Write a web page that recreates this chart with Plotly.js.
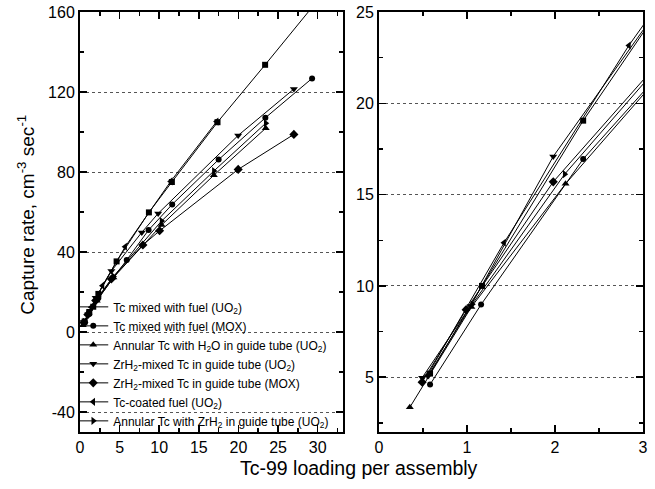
<!DOCTYPE html>
<html>
<head>
<meta charset="utf-8">
<script src="https://cdn.plot.ly/plotly-3.0.1.min.js"></script>
<style>html,body{margin:0;padding:0;background:#fff;}#chart{width:655px;height:489px;}</style>
</head>
<body>
<div id="chart"></div>
<script>
// Series names (legend labels)
const seriesNames = [
  "Tc mixed with fuel (UO<sub>2</sub>)",
  "Tc mixed with fuel (MOX)",
  "Annular Tc with H<sub>2</sub>O in guide tube (UO<sub>2</sub>)",
  "ZrH<sub>2</sub>-mixed Tc in guide tube (UO<sub>2</sub>)",
  "ZrH<sub>2</sub>-mixed Tc in guide tube (MOX)",
  "Tc-coated fuel (UO<sub>2</sub>)",
  "Annular Tc with ZrH<sub>2</sub> in guide tube (UO<sub>2</sub>)"
];
const seriesSymbols = ["square", "circle", "triangle-up", "triangle-down", "diamond", "triangle-left", "triangle-right"];

// Tc-99 loading per assembly (x) and capture rate (y) for each series
const fuelUO2X = [0.58, 1.17, 2.32, 4.62, 8.7, 11.6, 17.36, 23.37, 35.0];
const fuelUO2Y = [5.2, 10.0, 19.05, 35.3, 59.8, 75.0, 104.9, 133.6, 190.0];

const fuelMOXX = [0.58, 1.16, 2.32, 5.9, 8.66, 11.64, 17.5, 23.4, 29.3];
const fuelMOXY = [4.6, 8.98, 16.95, 36.0, 51.0, 63.8, 86.2, 107.1, 126.8];

const annH2OX = [0.35, 1.05, 2.12, 4.22, 10.3, 16.9, 23.45];
const annH2OY = [3.35, 8.85, 15.59, 27.2, 53.5, 78.4, 101.9];

const zrUO2X = [0.49, 1.04, 1.98, 3.96, 7.8, 9.87, 19.97, 27.0];
const zrUO2Y = [4.97, 8.9, 17.09, 30.5, 49.8, 59.3, 98.3, 121.5];

const zrMOXX = [0.49, 0.99, 1.98, 3.96, 7.94, 10.05, 19.97, 27.0];
const zrMOXY = [4.73, 8.7, 15.7, 26.5, 43.5, 50.6, 81.3, 98.8];

const coatedX = [0.55, 1.42, 2.84, 5.7, 11.45, 17.25];
const coatedY = [5.1, 12.36, 23.17, 42.6, 75.3, 105.2];

const annZrX = [0.56, 1.06, 2.11, 4.22, 10.3, 16.9, 23.45];
const annZrY = [5.1, 9.0, 16.12, 27.8, 55.5, 80.5, 104.4];

const seriesX = [fuelUO2X, fuelMOXX, annH2OX, zrUO2X, zrMOXX, coatedX, annZrX];
const seriesY = [fuelUO2Y, fuelMOXY, annH2OY, zrUO2Y, zrMOXY, coatedY, annZrY];

// Axis tick settings
const leftXTicks = [0, 5, 10, 15, 20, 25, 30];
const leftYTicks = [-40, 0, 40, 80, 120, 160];
const rightXTicks = [0, 1, 2, 3];
const rightYTicks = [5, 10, 15, 20, 25];

const FONT = "Liberation Sans, Arial, Helvetica, sans-serif";
const markerSizes = {"square": 6, "circle": 6, "triangle-up": 7, "triangle-down": 7, "diamond": 7, "triangle-left": 7, "triangle-right": 7};

const traces = [];
for (let i = 0; i < seriesNames.length; i++) {
  traces.push({
    type: "scatter",
    mode: "lines+markers",
    line: {color: "#000", width: 1},
    marker: {symbol: seriesSymbols[i], size: markerSizes[seriesSymbols[i]], color: "#000"},
    legendgroup: "g" + i,
    x: seriesX[i], y: seriesY[i], name: seriesNames[i], xaxis: "x", yaxis: "y", showlegend: true
  });
}
for (let i = 0; i < seriesNames.length; i++) {
  traces.push({
    type: "scatter",
    mode: "lines+markers",
    line: {color: "#000", width: 1},
    marker: {symbol: seriesSymbols[i], size: markerSizes[seriesSymbols[i]], color: "#000"},
    legendgroup: "g" + i,
    x: seriesX[i], y: seriesY[i], name: seriesNames[i], xaxis: "x2", yaxis: "y2", showlegend: false
  });
}

function axisBase() {
  return {
    showline: true, linecolor: "#000", linewidth: 2, mirror: "allticks",
    ticks: "inside", ticklen: 7, tickwidth: 1.5, tickcolor: "#000",
    zeroline: false, showgrid: false,
    tickfont: {family: FONT, size: 16, color: "#000"},
    tickmode: "array"
  };
}

const xaxis = Object.assign(axisBase(), {
  domain: [0, 0.4671], range: [0, 33.2], anchor: "y",
  tickvals: leftXTicks, ticktext: leftXTicks.map(String),
  minor: {dtick: 2.5, tick0: 0, ticks: "inside", ticklen: 4, tickwidth: 1.5, tickcolor: "#000", showgrid: false}
});
const yaxis = Object.assign(axisBase(), {
  domain: [0, 1], range: [-50, 160], anchor: "x",
  tickvals: leftYTicks, ticktext: leftYTicks.map(String),
  showgrid: true, gridcolor: "#555", gridwidth: 1, griddash: "dot",
  minor: {dtick: 20, tick0: 0, ticks: "inside", ticklen: 4, tickwidth: 1.5, tickcolor: "#000", showgrid: false}
});
const xaxis2 = Object.assign(axisBase(), {
  domain: [0.5311, 1], range: [0, 3], anchor: "y2",
  tickvals: rightXTicks, ticktext: rightXTicks.map(String),
  minor: {dtick: 0.5, tick0: 0, ticks: "inside", ticklen: 4, tickwidth: 1.5, tickcolor: "#000", showgrid: false}
});
const yaxis2 = Object.assign(axisBase(), {
  domain: [0, 1], range: [2, 25], anchor: "x2",
  tickvals: rightYTicks, ticktext: rightYTicks.map(String),
  showgrid: true, gridcolor: "#555", gridwidth: 1, griddash: "dot",
  minor: {dtick: 2.5, tick0: 0, ticks: "inside", ticklen: 4, tickwidth: 1.5, tickcolor: "#000", showgrid: false}
});

const layout = {
  width: 655, height: 489,
  margin: {l: 80, r: 12, t: 12, b: 57, pad: 0},
  paper_bgcolor: "#fff", plot_bgcolor: "rgba(0,0,0,0)",
  font: {family: FONT, color: "#000"},
  showlegend: true,
  legend: {
    x: -0.012, xanchor: "left", y: -0.008, yanchor: "bottom",
    bgcolor: "rgba(0,0,0,0)", borderwidth: 0,
    font: {family: FONT, size: 12, color: "#000"},
    traceorder: "normal", tracegroupgap: 0
  },
  xaxis: xaxis, yaxis: yaxis, xaxis2: xaxis2, yaxis2: yaxis2,
  annotations: [
    {text: "Tc-99 loading per assembly", xref: "paper", yref: "paper",
     x: 0.4956, y: -0.086, xanchor: "center", yanchor: "middle", showarrow: false,
     font: {family: FONT, size: 19.5, color: "#000"}},
    {text: "Capture rate, cm<sup>-3</sup> sec<sup>-1</sup>", xref: "paper", yref: "paper",
     x: -0.096, y: 0.517, xanchor: "center", yanchor: "middle", textangle: -90, showarrow: false,
     font: {family: FONT, size: 19, color: "#000"}}
  ]
};

Plotly.newPlot("chart", traces, layout, {displayModeBar: false, staticPlot: true});
</script>
</body>
</html>
